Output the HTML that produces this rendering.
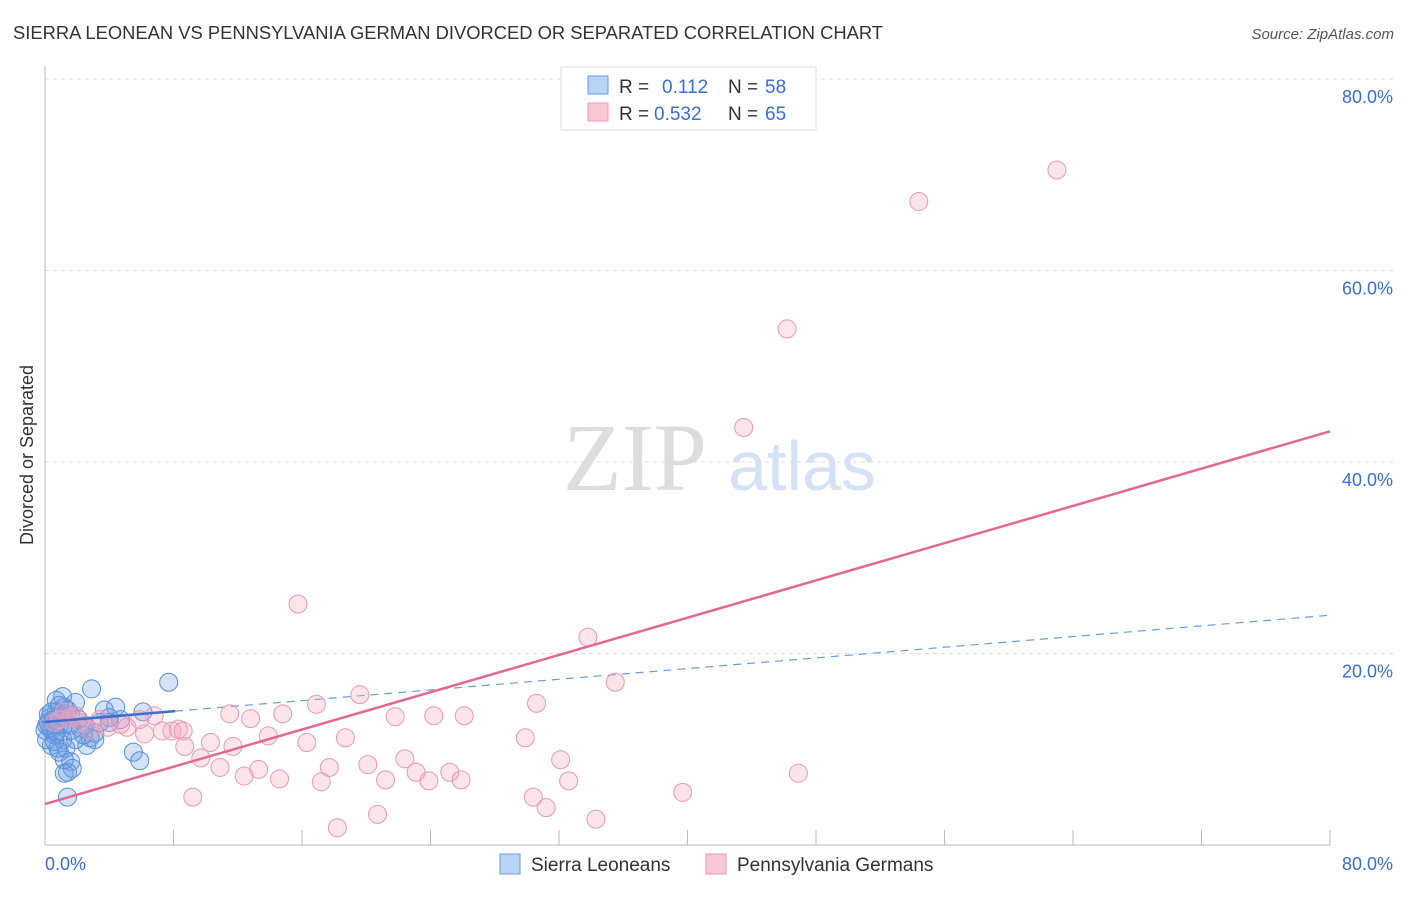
<!DOCTYPE html>
<html><head><meta charset="utf-8"><style>
body{margin:0;background:#fff;font-family:"Liberation Sans",sans-serif}
</style></head><body>
<svg id="chart" width="1406" height="892" xmlns="http://www.w3.org/2000/svg" font-family="Liberation Sans, sans-serif">
<text x="13" y="39" font-size="18" fill="#333" textLength="870" lengthAdjust="spacingAndGlyphs">SIERRA LEONEAN VS PENNSYLVANIA GERMAN DIVORCED OR SEPARATED CORRELATION CHART</text>
<text x="1394" y="39" font-size="15" fill="#555" text-anchor="end" font-style="italic">Source: ZipAtlas.com</text>
<text transform="translate(33,455) rotate(-90)" font-size="18" fill="#333" text-anchor="middle">Divorced or Separated</text>
<g>
<text x="635" y="490" font-size="96" fill="#ddd" font-family="Liberation Serif, serif" text-anchor="middle">ZIP</text>
<text x="802" y="490" font-size="70" fill="#d4e2f5" text-anchor="middle">atlas</text>
</g>
<g id="grid"></g><g id="axes"></g><g id="lines"></g><g id="pts"></g>
<g>
<rect x="561" y="67" width="255" height="63" fill="#fff" stroke="#ddd"/>
<rect x="588" y="76" width="20" height="18" fill="#b8d3f5" stroke="#6a9de0"/>
<rect x="588" y="103" width="20" height="18" fill="#fac8d6" stroke="#e89ab0"/>
<text x="619" y="93" font-size="19" fill="#333">R =</text><text x="662" y="93" font-size="19" fill="#3a6fd0">0.112</text>
<text x="728" y="93" font-size="19" fill="#333">N =</text><text x="765" y="93" font-size="19" fill="#3a6fd0">58</text>
<text x="619" y="120" font-size="19" fill="#333">R =</text><text x="654" y="120" font-size="19" fill="#3a6fd0">0.532</text>
<text x="728" y="120" font-size="19" fill="#333">N =</text><text x="765" y="120" font-size="19" fill="#3a6fd0">65</text>
</g>
<g>
<rect x="500" y="854" width="20" height="20" fill="#b8d3f5" stroke="#6a9de0"/>
<text x="531" y="871" font-size="19" fill="#333">Sierra Leoneans</text>
<rect x="706" y="854" width="20" height="20" fill="#fac8d6" stroke="#e89ab0"/>
<text x="737" y="871" font-size="19" fill="#333">Pennsylvania Germans</text>
</g>
</svg>
<script>
const yTicks=[20,40,60,80];
const xTickLabels=["0.0%","80.0%"];
const blueX=[7.7,2.9,1.1,0.7,1.9,1.2,3.7,4.4,6.1,4.7,0.7,0.3,0.9,0.2,0.4,1.6,2.2,0.6,1.1,2.8,3.1,1.9,0.4,1.3,2.6,0.9,5.5,5.9,1.6,1.7,1.4,1.2,1.4,0.2,0.3,0.5,0.8,1.2,0.0,0.1,3.4,4.0,2.5,0.7,1.1,1.6,2.1,0.6,0.9,1.4,0.1,0.4,3.1,0.8,1.2,1.7,2.4,4.0];
const blueY=[17.0,16.3,15.5,15.1,14.9,14.4,14.1,14.4,13.9,13.1,13.9,13.3,12.5,12.8,12.0,12.5,12.2,11.5,11.0,11.2,11.7,11.0,10.4,10.1,10.4,9.7,9.7,8.8,8.7,8.0,7.6,7.5,5.0,13.6,12.2,13.1,13.3,12.6,12.0,11.0,12.8,13.3,12.5,11.7,13.5,13.6,13.1,10.8,14.6,14.1,12.5,13.9,11.0,10.1,8.9,12.0,11.5,12.8];
const pinkX=[15.75,33.8,35.5,30.6,19.6,16.9,11.5,12.8,14.8,21.8,24.2,26.1,6.8,8.3,5.1,3.9,6.2,7.3,7.9,8.6,13.9,16.3,18.7,29.9,8.7,10.3,11.7,9.7,10.9,13.3,12.4,14.6,17.7,20.1,22.4,23.1,21.2,23.9,25.2,25.9,32.1,32.6,17.2,46.9,39.7,30.4,31.2,9.2,20.7,34.3,18.2,63.0,54.4,46.2,43.5,4.7,5.9,3.4,2.2,1.6,0.9,0.6,2.8,1.2,1.9];
const pinkY=[25.17,21.7,17.0,14.8,15.7,14.7,13.7,13.2,13.7,13.4,13.5,13.5,13.5,12.1,12.3,12.3,11.6,11.9,11.9,11.9,11.4,10.7,11.2,11.2,10.3,10.7,10.3,9.1,8.1,7.9,7.2,6.9,8.1,8.4,9.0,7.6,6.8,6.7,7.6,6.8,8.9,6.7,6.6,7.5,5.5,5.0,3.9,5.0,3.2,2.7,1.8,70.5,67.2,53.9,43.6,12.6,13.1,13.1,12.8,13.3,13.1,12.8,12.0,13.9,13.5];
const pinkTrend=[4.28,43.2];
const blueTrend=[12.85,24.0];
const blueSolidEnd=8.1;
const NS="http://www.w3.org/2000/svg";
const X0=45,X1=1330,Y0=845,Y80=79;
function sx(v){return X0+v/80*(X1-X0);}
function sy(v){return Y0-v/80*(Y0-Y80);}
function mk(t,a,p){const e=document.createElementNS(NS,t);for(const k in a)e.setAttribute(k,a[k]);p.appendChild(e);return e;}
const grid=document.getElementById('grid'),axes=document.getElementById('axes'),lines=document.getElementById('lines'),pts=document.getElementById('pts');
yTicks.forEach(t=>{
 const l=mk('line',{x1:X0,x2:1393,y1:sy(t),y2:sy(t),stroke:'#ddd','stroke-dasharray':'4,4'},grid);
 
 
 const tx=mk('text',{x:1393,y:sy(t)+24,'font-size':18,fill:'#3a6fd0','text-anchor':'end'},grid);
 tx.textContent=t.toFixed(1)+'%';
 
 
});
const ya=mk('line',{x1:X0,x2:X0,y1:66,y2:Y0,stroke:'#bbb'},axes);


const xa=mk('line',{x1:X0,x2:X1,y1:Y0,y2:Y0,stroke:'#bbb'},axes);


for(let v=8;v<=80;v+=8){
 const t=mk('line',{x1:sx(v),x2:sx(v),y1:830,y2:Y0,stroke:'#bbb'},axes);
 
 
}
const xl0=mk('text',{x:45,y:870,'font-size':18,fill:'#3a6fd0'},axes);xl0.textContent=xTickLabels[0];


const xl1=mk('text',{x:1393,y:870,'font-size':18,fill:'#3a6fd0','text-anchor':'end'},axes);xl1.textContent=xTickLabels[1];


function bl(x){return blueTrend[0]+(blueTrend[1]-blueTrend[0])*x/80;}
const bd=mk('line',{x1:sx(blueSolidEnd),y1:sy(bl(blueSolidEnd)),x2:sx(80),y2:sy(bl(80)),stroke:'#6a9de0','stroke-width':1.2,'stroke-dasharray':'8,6'},lines);


blueX.forEach((x,i)=>{
 const c=mk('circle',{cx:sx(x),cy:sy(blueY[i]),r:9,fill:'rgba(110,160,230,0.3)',stroke:'#5b8fd9','stroke-width':1},pts);
 
 
});
pinkX.forEach((x,i)=>{
 const c=mk('circle',{cx:sx(x),cy:sy(pinkY[i]),r:9,fill:'rgba(245,165,190,0.3)',stroke:'#e89ab0','stroke-width':1},pts);
 
 
});
const bs=mk('line',{x1:sx(0),y1:sy(bl(0)),x2:sx(blueSolidEnd),y2:sy(bl(blueSolidEnd)),stroke:'#3a6fd0','stroke-width':2.5},pts);


const pl=mk('line',{x1:sx(0),y1:sy(pinkTrend[0]),x2:sx(80),y2:sy(pinkTrend[1]),stroke:'#e56790','stroke-width':2.5},pts);


</script>
</body></html>
